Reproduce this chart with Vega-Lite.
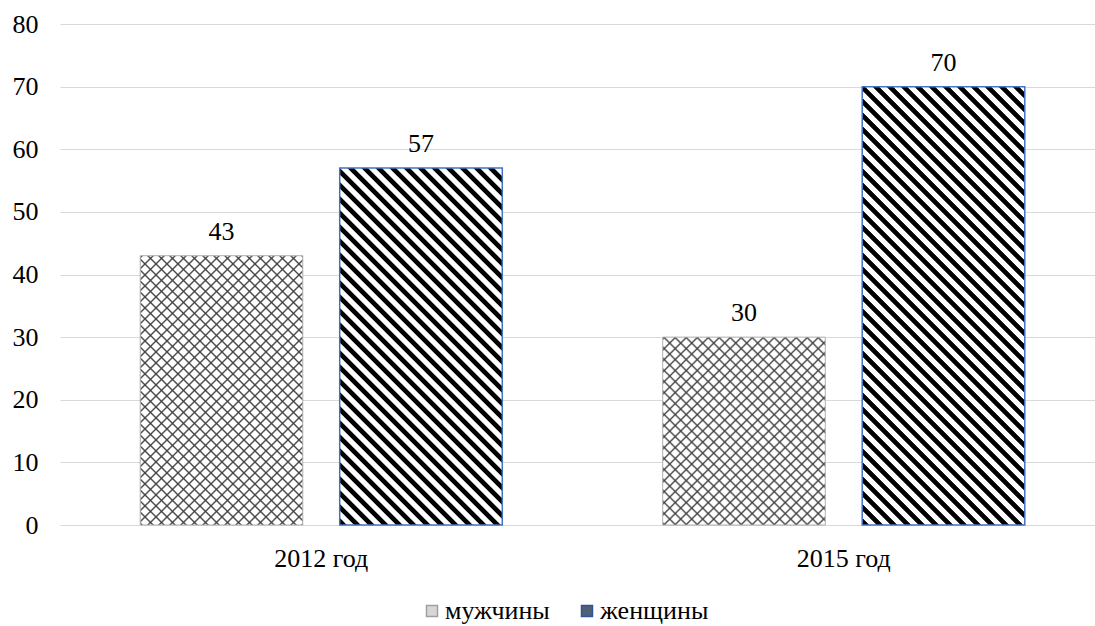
{
  "$schema": "https://vega.github.io/schema/vega-lite/v6.json",
  "width": 1035,
  "height": 501,
  "autosize": "none",
  "padding": {"left": 60, "top": 24, "right": 0, "bottom": 101},
  "background": "#ffffff",
  "config": {"view": {"stroke": null}},
  "data": {
    "values": [
      {"year": "2012 год", "sex": "мужчины", "value": 43},
      {"year": "2012 год", "sex": "женщины", "value": 57},
      {"year": "2015 год", "sex": "мужчины", "value": 30},
      {"year": "2015 год", "sex": "женщины", "value": 70}
    ]
  },
  "encoding": {
    "x": {
      "field": "year", "type": "nominal",
      "scale": {"domain": ["2012 год", "2015 год"], "range": [0, 1045], "paddingInner": 0.307, "paddingOuter": 0.1535},
      "axis": {"title": null, "labelAngle": 0, "domain": false, "ticks": false, "grid": false, "labelFont": "Times New Roman, Liberation Serif, serif", "labelFontSize": 26, "labelColor": "#000", "labelPadding": 20}
    },
    "xOffset": {
      "field": "sex", "type": "nominal",
      "scale": {"domain": ["мужчины", "женщины"], "paddingInner": 0.185, "paddingOuter": 0}
    },
    "y": {
      "field": "value", "type": "quantitative",
      "scale": {"domain": [0, 80], "nice": false},
      "axis": {"title": null, "values": [0, 10, 20, 30, 40, 50, 60, 70, 80], "grid": true, "gridColor": "#d9d9d9", "gridWidth": 1, "domain": false, "ticks": false, "labelFont": "Times New Roman, Liberation Serif, serif", "labelFontSize": 26, "labelColor": "#000", "labelPadding": 22}
    }
  },
  "layer": [
    {
      "mark": {"type": "bar"},
      "encoding": {
        "color": {
          "field": "sex", "type": "nominal",
          "scale": {"domain": ["мужчины", "женщины"], "range": ["#d6d6d6", "#506079"]},
          "legend": {
            "title": null, "orient": "none", "legendX": 359, "legendY": 574, "direction": "horizontal",
            "symbolType": "square", "symbolSize": 121, "symbolStrokeWidth": 1.5,
            "labelFont": "Times New Roman, Liberation Serif, serif", "labelFontSize": 26, "labelColor": "#000", "labelOffset": 0,
            "columnPadding": 24, "padding": 0,
            "encode": {
              "symbols": {
                "update": {
                  "stroke": [
                    {"test": "datum.value === 'мужчины'", "value": "#a0a0a0"},
                    {"value": "#2f5597"}
                  ]
                }
              }
            }
          }
        }
      }
    },
    {
      "transform": [{"filter": "datum.year === '2012 год' && datum.sex === 'мужчины'"}],
      "mark": {"type": "bar", "fill": {"gradient": "linear", "x1": 0, "y1": 0, "x2": 0.9037, "y2": 1.4967, "stops": [
        {"offset":0,"color":"#fff"},{"offset":0.0035,"color":"#404040"},{"offset":0.007,"color":"#fff"},
        {"offset":0.02,"color":"#fff"},{"offset":0.0235,"color":"#404040"},{"offset":0.027,"color":"#fff"},
        {"offset":0.04,"color":"#fff"},{"offset":0.0435,"color":"#404040"},{"offset":0.047,"color":"#fff"},
        {"offset":0.06,"color":"#fff"},{"offset":0.0635,"color":"#404040"},{"offset":0.067,"color":"#fff"},
        {"offset":0.08,"color":"#fff"},{"offset":0.0835,"color":"#404040"},{"offset":0.087,"color":"#fff"},
        {"offset":0.1,"color":"#fff"},{"offset":0.1035,"color":"#404040"},{"offset":0.107,"color":"#fff"},
        {"offset":0.12,"color":"#fff"},{"offset":0.1235,"color":"#404040"},{"offset":0.127,"color":"#fff"},
        {"offset":0.14,"color":"#fff"},{"offset":0.1435,"color":"#404040"},{"offset":0.147,"color":"#fff"},
        {"offset":0.16,"color":"#fff"},{"offset":0.1635,"color":"#404040"},{"offset":0.167,"color":"#fff"},
        {"offset":0.18,"color":"#fff"},{"offset":0.1835,"color":"#404040"},{"offset":0.187,"color":"#fff"},
        {"offset":0.2,"color":"#fff"},{"offset":0.2035,"color":"#404040"},{"offset":0.207,"color":"#fff"},
        {"offset":0.22,"color":"#fff"},{"offset":0.2235,"color":"#404040"},{"offset":0.227,"color":"#fff"},
        {"offset":0.24,"color":"#fff"},{"offset":0.2435,"color":"#404040"},{"offset":0.247,"color":"#fff"},
        {"offset":0.26,"color":"#fff"},{"offset":0.2635,"color":"#404040"},{"offset":0.267,"color":"#fff"},
        {"offset":0.28,"color":"#fff"},{"offset":0.2835,"color":"#404040"},{"offset":0.287,"color":"#fff"},
        {"offset":0.3,"color":"#fff"},{"offset":0.3035,"color":"#404040"},{"offset":0.307,"color":"#fff"},
        {"offset":0.32,"color":"#fff"},{"offset":0.3235,"color":"#404040"},{"offset":0.327,"color":"#fff"},
        {"offset":0.34,"color":"#fff"},{"offset":0.3435,"color":"#404040"},{"offset":0.347,"color":"#fff"},
        {"offset":0.36,"color":"#fff"},{"offset":0.3635,"color":"#404040"},{"offset":0.367,"color":"#fff"},
        {"offset":0.38,"color":"#fff"},{"offset":0.3835,"color":"#404040"},{"offset":0.387,"color":"#fff"},
        {"offset":0.4,"color":"#fff"},{"offset":0.4035,"color":"#404040"},{"offset":0.407,"color":"#fff"},
        {"offset":0.42,"color":"#fff"},{"offset":0.4235,"color":"#404040"},{"offset":0.427,"color":"#fff"},
        {"offset":0.44,"color":"#fff"},{"offset":0.4435,"color":"#404040"},{"offset":0.447,"color":"#fff"},
        {"offset":0.46,"color":"#fff"},{"offset":0.4635,"color":"#404040"},{"offset":0.467,"color":"#fff"},
        {"offset":0.48,"color":"#fff"},{"offset":0.4835,"color":"#404040"},{"offset":0.487,"color":"#fff"},
        {"offset":0.5,"color":"#fff"},{"offset":0.5035,"color":"#404040"},{"offset":0.507,"color":"#fff"},
        {"offset":0.52,"color":"#fff"},{"offset":0.5235,"color":"#404040"},{"offset":0.527,"color":"#fff"},
        {"offset":0.54,"color":"#fff"},{"offset":0.5435,"color":"#404040"},{"offset":0.547,"color":"#fff"},
        {"offset":0.56,"color":"#fff"},{"offset":0.5635,"color":"#404040"},{"offset":0.567,"color":"#fff"},
        {"offset":0.58,"color":"#fff"},{"offset":0.5835,"color":"#404040"},{"offset":0.587,"color":"#fff"},
        {"offset":0.6,"color":"#fff"},{"offset":0.6035,"color":"#404040"},{"offset":0.607,"color":"#fff"},
        {"offset":0.62,"color":"#fff"},{"offset":0.6235,"color":"#404040"},{"offset":0.627,"color":"#fff"},
        {"offset":0.64,"color":"#fff"},{"offset":0.6435,"color":"#404040"},{"offset":0.647,"color":"#fff"},
        {"offset":0.66,"color":"#fff"},{"offset":0.6635,"color":"#404040"},{"offset":0.667,"color":"#fff"},
        {"offset":0.68,"color":"#fff"},{"offset":0.6835,"color":"#404040"},{"offset":0.687,"color":"#fff"},
        {"offset":0.7,"color":"#fff"},{"offset":0.7035,"color":"#404040"},{"offset":0.707,"color":"#fff"},
        {"offset":0.72,"color":"#fff"},{"offset":0.7235,"color":"#404040"},{"offset":0.727,"color":"#fff"},
        {"offset":0.74,"color":"#fff"},{"offset":0.7435,"color":"#404040"},{"offset":0.747,"color":"#fff"},
        {"offset":0.76,"color":"#fff"},{"offset":0.7635,"color":"#404040"},{"offset":0.767,"color":"#fff"},
        {"offset":0.78,"color":"#fff"},{"offset":0.7835,"color":"#404040"},{"offset":0.787,"color":"#fff"}
      ]}}
    },
    {
      "transform": [{"filter": "datum.year === '2012 год' && datum.sex === 'мужчины'"}],
      "mark": {"type": "bar", "stroke": "#b0b0b0", "strokeWidth": 1, "fill": {"gradient": "linear", "x1": 0, "y1": 1, "x2": 0.9037, "y2": -0.4967, "stops": [
        {"offset":0,"color":"rgba(64,64,64,0)"},{"offset":0.0035,"color":"#404040"},{"offset":0.007,"color":"rgba(64,64,64,0)"},
        {"offset":0.02,"color":"rgba(64,64,64,0)"},{"offset":0.0235,"color":"#404040"},{"offset":0.027,"color":"rgba(64,64,64,0)"},
        {"offset":0.04,"color":"rgba(64,64,64,0)"},{"offset":0.0435,"color":"#404040"},{"offset":0.047,"color":"rgba(64,64,64,0)"},
        {"offset":0.06,"color":"rgba(64,64,64,0)"},{"offset":0.0635,"color":"#404040"},{"offset":0.067,"color":"rgba(64,64,64,0)"},
        {"offset":0.08,"color":"rgba(64,64,64,0)"},{"offset":0.0835,"color":"#404040"},{"offset":0.087,"color":"rgba(64,64,64,0)"},
        {"offset":0.1,"color":"rgba(64,64,64,0)"},{"offset":0.1035,"color":"#404040"},{"offset":0.107,"color":"rgba(64,64,64,0)"},
        {"offset":0.12,"color":"rgba(64,64,64,0)"},{"offset":0.1235,"color":"#404040"},{"offset":0.127,"color":"rgba(64,64,64,0)"},
        {"offset":0.14,"color":"rgba(64,64,64,0)"},{"offset":0.1435,"color":"#404040"},{"offset":0.147,"color":"rgba(64,64,64,0)"},
        {"offset":0.16,"color":"rgba(64,64,64,0)"},{"offset":0.1635,"color":"#404040"},{"offset":0.167,"color":"rgba(64,64,64,0)"},
        {"offset":0.18,"color":"rgba(64,64,64,0)"},{"offset":0.1835,"color":"#404040"},{"offset":0.187,"color":"rgba(64,64,64,0)"},
        {"offset":0.2,"color":"rgba(64,64,64,0)"},{"offset":0.2035,"color":"#404040"},{"offset":0.207,"color":"rgba(64,64,64,0)"},
        {"offset":0.22,"color":"rgba(64,64,64,0)"},{"offset":0.2235,"color":"#404040"},{"offset":0.227,"color":"rgba(64,64,64,0)"},
        {"offset":0.24,"color":"rgba(64,64,64,0)"},{"offset":0.2435,"color":"#404040"},{"offset":0.247,"color":"rgba(64,64,64,0)"},
        {"offset":0.26,"color":"rgba(64,64,64,0)"},{"offset":0.2635,"color":"#404040"},{"offset":0.267,"color":"rgba(64,64,64,0)"},
        {"offset":0.28,"color":"rgba(64,64,64,0)"},{"offset":0.2835,"color":"#404040"},{"offset":0.287,"color":"rgba(64,64,64,0)"},
        {"offset":0.3,"color":"rgba(64,64,64,0)"},{"offset":0.3035,"color":"#404040"},{"offset":0.307,"color":"rgba(64,64,64,0)"},
        {"offset":0.32,"color":"rgba(64,64,64,0)"},{"offset":0.3235,"color":"#404040"},{"offset":0.327,"color":"rgba(64,64,64,0)"},
        {"offset":0.34,"color":"rgba(64,64,64,0)"},{"offset":0.3435,"color":"#404040"},{"offset":0.347,"color":"rgba(64,64,64,0)"},
        {"offset":0.36,"color":"rgba(64,64,64,0)"},{"offset":0.3635,"color":"#404040"},{"offset":0.367,"color":"rgba(64,64,64,0)"},
        {"offset":0.38,"color":"rgba(64,64,64,0)"},{"offset":0.3835,"color":"#404040"},{"offset":0.387,"color":"rgba(64,64,64,0)"},
        {"offset":0.4,"color":"rgba(64,64,64,0)"},{"offset":0.4035,"color":"#404040"},{"offset":0.407,"color":"rgba(64,64,64,0)"},
        {"offset":0.42,"color":"rgba(64,64,64,0)"},{"offset":0.4235,"color":"#404040"},{"offset":0.427,"color":"rgba(64,64,64,0)"},
        {"offset":0.44,"color":"rgba(64,64,64,0)"},{"offset":0.4435,"color":"#404040"},{"offset":0.447,"color":"rgba(64,64,64,0)"},
        {"offset":0.46,"color":"rgba(64,64,64,0)"},{"offset":0.4635,"color":"#404040"},{"offset":0.467,"color":"rgba(64,64,64,0)"},
        {"offset":0.48,"color":"rgba(64,64,64,0)"},{"offset":0.4835,"color":"#404040"},{"offset":0.487,"color":"rgba(64,64,64,0)"},
        {"offset":0.5,"color":"rgba(64,64,64,0)"},{"offset":0.5035,"color":"#404040"},{"offset":0.507,"color":"rgba(64,64,64,0)"},
        {"offset":0.52,"color":"rgba(64,64,64,0)"},{"offset":0.5235,"color":"#404040"},{"offset":0.527,"color":"rgba(64,64,64,0)"},
        {"offset":0.54,"color":"rgba(64,64,64,0)"},{"offset":0.5435,"color":"#404040"},{"offset":0.547,"color":"rgba(64,64,64,0)"},
        {"offset":0.56,"color":"rgba(64,64,64,0)"},{"offset":0.5635,"color":"#404040"},{"offset":0.567,"color":"rgba(64,64,64,0)"},
        {"offset":0.58,"color":"rgba(64,64,64,0)"},{"offset":0.5835,"color":"#404040"},{"offset":0.587,"color":"rgba(64,64,64,0)"},
        {"offset":0.6,"color":"rgba(64,64,64,0)"},{"offset":0.6035,"color":"#404040"},{"offset":0.607,"color":"rgba(64,64,64,0)"},
        {"offset":0.62,"color":"rgba(64,64,64,0)"},{"offset":0.6235,"color":"#404040"},{"offset":0.627,"color":"rgba(64,64,64,0)"},
        {"offset":0.64,"color":"rgba(64,64,64,0)"},{"offset":0.6435,"color":"#404040"},{"offset":0.647,"color":"rgba(64,64,64,0)"},
        {"offset":0.66,"color":"rgba(64,64,64,0)"},{"offset":0.6635,"color":"#404040"},{"offset":0.667,"color":"rgba(64,64,64,0)"},
        {"offset":0.68,"color":"rgba(64,64,64,0)"},{"offset":0.6835,"color":"#404040"},{"offset":0.687,"color":"rgba(64,64,64,0)"},
        {"offset":0.7,"color":"rgba(64,64,64,0)"},{"offset":0.7035,"color":"#404040"},{"offset":0.707,"color":"rgba(64,64,64,0)"},
        {"offset":0.72,"color":"rgba(64,64,64,0)"},{"offset":0.7235,"color":"#404040"},{"offset":0.727,"color":"rgba(64,64,64,0)"},
        {"offset":0.74,"color":"rgba(64,64,64,0)"},{"offset":0.7435,"color":"#404040"},{"offset":0.747,"color":"rgba(64,64,64,0)"},
        {"offset":0.76,"color":"rgba(64,64,64,0)"},{"offset":0.7635,"color":"#404040"},{"offset":0.767,"color":"rgba(64,64,64,0)"},
        {"offset":0.78,"color":"rgba(64,64,64,0)"},{"offset":0.7835,"color":"#404040"},{"offset":0.787,"color":"rgba(64,64,64,0)"}
      ]}}
    },
    {
      "transform": [{"filter": "datum.year === '2015 год' && datum.sex === 'мужчины'"}],
      "mark": {"type": "bar", "fill": {"gradient": "linear", "x1": 0, "y1": 0, "x2": 1.4486, "y2": 1.6738, "stops": [
        {"offset":0,"color":"#fff"},{"offset":0.0035,"color":"#404040"},{"offset":0.007,"color":"#fff"},
        {"offset":0.02,"color":"#fff"},{"offset":0.0235,"color":"#404040"},{"offset":0.027,"color":"#fff"},
        {"offset":0.04,"color":"#fff"},{"offset":0.0435,"color":"#404040"},{"offset":0.047,"color":"#fff"},
        {"offset":0.06,"color":"#fff"},{"offset":0.0635,"color":"#404040"},{"offset":0.067,"color":"#fff"},
        {"offset":0.08,"color":"#fff"},{"offset":0.0835,"color":"#404040"},{"offset":0.087,"color":"#fff"},
        {"offset":0.1,"color":"#fff"},{"offset":0.1035,"color":"#404040"},{"offset":0.107,"color":"#fff"},
        {"offset":0.12,"color":"#fff"},{"offset":0.1235,"color":"#404040"},{"offset":0.127,"color":"#fff"},
        {"offset":0.14,"color":"#fff"},{"offset":0.1435,"color":"#404040"},{"offset":0.147,"color":"#fff"},
        {"offset":0.16,"color":"#fff"},{"offset":0.1635,"color":"#404040"},{"offset":0.167,"color":"#fff"},
        {"offset":0.18,"color":"#fff"},{"offset":0.1835,"color":"#404040"},{"offset":0.187,"color":"#fff"},
        {"offset":0.2,"color":"#fff"},{"offset":0.2035,"color":"#404040"},{"offset":0.207,"color":"#fff"},
        {"offset":0.22,"color":"#fff"},{"offset":0.2235,"color":"#404040"},{"offset":0.227,"color":"#fff"},
        {"offset":0.24,"color":"#fff"},{"offset":0.2435,"color":"#404040"},{"offset":0.247,"color":"#fff"},
        {"offset":0.26,"color":"#fff"},{"offset":0.2635,"color":"#404040"},{"offset":0.267,"color":"#fff"},
        {"offset":0.28,"color":"#fff"},{"offset":0.2835,"color":"#404040"},{"offset":0.287,"color":"#fff"},
        {"offset":0.3,"color":"#fff"},{"offset":0.3035,"color":"#404040"},{"offset":0.307,"color":"#fff"},
        {"offset":0.32,"color":"#fff"},{"offset":0.3235,"color":"#404040"},{"offset":0.327,"color":"#fff"},
        {"offset":0.34,"color":"#fff"},{"offset":0.3435,"color":"#404040"},{"offset":0.347,"color":"#fff"},
        {"offset":0.36,"color":"#fff"},{"offset":0.3635,"color":"#404040"},{"offset":0.367,"color":"#fff"},
        {"offset":0.38,"color":"#fff"},{"offset":0.3835,"color":"#404040"},{"offset":0.387,"color":"#fff"},
        {"offset":0.4,"color":"#fff"},{"offset":0.4035,"color":"#404040"},{"offset":0.407,"color":"#fff"},
        {"offset":0.42,"color":"#fff"},{"offset":0.4235,"color":"#404040"},{"offset":0.427,"color":"#fff"},
        {"offset":0.44,"color":"#fff"},{"offset":0.4435,"color":"#404040"},{"offset":0.447,"color":"#fff"},
        {"offset":0.46,"color":"#fff"},{"offset":0.4635,"color":"#404040"},{"offset":0.467,"color":"#fff"},
        {"offset":0.48,"color":"#fff"},{"offset":0.4835,"color":"#404040"},{"offset":0.487,"color":"#fff"},
        {"offset":0.5,"color":"#fff"},{"offset":0.5035,"color":"#404040"},{"offset":0.507,"color":"#fff"},
        {"offset":0.52,"color":"#fff"},{"offset":0.5235,"color":"#404040"},{"offset":0.527,"color":"#fff"},
        {"offset":0.54,"color":"#fff"},{"offset":0.5435,"color":"#404040"},{"offset":0.547,"color":"#fff"},
        {"offset":0.56,"color":"#fff"},{"offset":0.5635,"color":"#404040"},{"offset":0.567,"color":"#fff"},
        {"offset":0.58,"color":"#fff"},{"offset":0.5835,"color":"#404040"},{"offset":0.587,"color":"#fff"},
        {"offset":0.6,"color":"#fff"},{"offset":0.6035,"color":"#404040"},{"offset":0.607,"color":"#fff"},
        {"offset":0.62,"color":"#fff"},{"offset":0.6235,"color":"#404040"},{"offset":0.627,"color":"#fff"},
        {"offset":0.64,"color":"#fff"},{"offset":0.6435,"color":"#404040"},{"offset":0.647,"color":"#fff"}
      ]}}
    },
    {
      "transform": [{"filter": "datum.year === '2015 год' && datum.sex === 'мужчины'"}],
      "mark": {"type": "bar", "stroke": "#b0b0b0", "strokeWidth": 1, "fill": {"gradient": "linear", "x1": 0, "y1": 1, "x2": 1.4486, "y2": -0.6738, "stops": [
        {"offset":0,"color":"rgba(64,64,64,0)"},{"offset":0.0035,"color":"#404040"},{"offset":0.007,"color":"rgba(64,64,64,0)"},
        {"offset":0.02,"color":"rgba(64,64,64,0)"},{"offset":0.0235,"color":"#404040"},{"offset":0.027,"color":"rgba(64,64,64,0)"},
        {"offset":0.04,"color":"rgba(64,64,64,0)"},{"offset":0.0435,"color":"#404040"},{"offset":0.047,"color":"rgba(64,64,64,0)"},
        {"offset":0.06,"color":"rgba(64,64,64,0)"},{"offset":0.0635,"color":"#404040"},{"offset":0.067,"color":"rgba(64,64,64,0)"},
        {"offset":0.08,"color":"rgba(64,64,64,0)"},{"offset":0.0835,"color":"#404040"},{"offset":0.087,"color":"rgba(64,64,64,0)"},
        {"offset":0.1,"color":"rgba(64,64,64,0)"},{"offset":0.1035,"color":"#404040"},{"offset":0.107,"color":"rgba(64,64,64,0)"},
        {"offset":0.12,"color":"rgba(64,64,64,0)"},{"offset":0.1235,"color":"#404040"},{"offset":0.127,"color":"rgba(64,64,64,0)"},
        {"offset":0.14,"color":"rgba(64,64,64,0)"},{"offset":0.1435,"color":"#404040"},{"offset":0.147,"color":"rgba(64,64,64,0)"},
        {"offset":0.16,"color":"rgba(64,64,64,0)"},{"offset":0.1635,"color":"#404040"},{"offset":0.167,"color":"rgba(64,64,64,0)"},
        {"offset":0.18,"color":"rgba(64,64,64,0)"},{"offset":0.1835,"color":"#404040"},{"offset":0.187,"color":"rgba(64,64,64,0)"},
        {"offset":0.2,"color":"rgba(64,64,64,0)"},{"offset":0.2035,"color":"#404040"},{"offset":0.207,"color":"rgba(64,64,64,0)"},
        {"offset":0.22,"color":"rgba(64,64,64,0)"},{"offset":0.2235,"color":"#404040"},{"offset":0.227,"color":"rgba(64,64,64,0)"},
        {"offset":0.24,"color":"rgba(64,64,64,0)"},{"offset":0.2435,"color":"#404040"},{"offset":0.247,"color":"rgba(64,64,64,0)"},
        {"offset":0.26,"color":"rgba(64,64,64,0)"},{"offset":0.2635,"color":"#404040"},{"offset":0.267,"color":"rgba(64,64,64,0)"},
        {"offset":0.28,"color":"rgba(64,64,64,0)"},{"offset":0.2835,"color":"#404040"},{"offset":0.287,"color":"rgba(64,64,64,0)"},
        {"offset":0.3,"color":"rgba(64,64,64,0)"},{"offset":0.3035,"color":"#404040"},{"offset":0.307,"color":"rgba(64,64,64,0)"},
        {"offset":0.32,"color":"rgba(64,64,64,0)"},{"offset":0.3235,"color":"#404040"},{"offset":0.327,"color":"rgba(64,64,64,0)"},
        {"offset":0.34,"color":"rgba(64,64,64,0)"},{"offset":0.3435,"color":"#404040"},{"offset":0.347,"color":"rgba(64,64,64,0)"},
        {"offset":0.36,"color":"rgba(64,64,64,0)"},{"offset":0.3635,"color":"#404040"},{"offset":0.367,"color":"rgba(64,64,64,0)"},
        {"offset":0.38,"color":"rgba(64,64,64,0)"},{"offset":0.3835,"color":"#404040"},{"offset":0.387,"color":"rgba(64,64,64,0)"},
        {"offset":0.4,"color":"rgba(64,64,64,0)"},{"offset":0.4035,"color":"#404040"},{"offset":0.407,"color":"rgba(64,64,64,0)"},
        {"offset":0.42,"color":"rgba(64,64,64,0)"},{"offset":0.4235,"color":"#404040"},{"offset":0.427,"color":"rgba(64,64,64,0)"},
        {"offset":0.44,"color":"rgba(64,64,64,0)"},{"offset":0.4435,"color":"#404040"},{"offset":0.447,"color":"rgba(64,64,64,0)"},
        {"offset":0.46,"color":"rgba(64,64,64,0)"},{"offset":0.4635,"color":"#404040"},{"offset":0.467,"color":"rgba(64,64,64,0)"},
        {"offset":0.48,"color":"rgba(64,64,64,0)"},{"offset":0.4835,"color":"#404040"},{"offset":0.487,"color":"rgba(64,64,64,0)"},
        {"offset":0.5,"color":"rgba(64,64,64,0)"},{"offset":0.5035,"color":"#404040"},{"offset":0.507,"color":"rgba(64,64,64,0)"},
        {"offset":0.52,"color":"rgba(64,64,64,0)"},{"offset":0.5235,"color":"#404040"},{"offset":0.527,"color":"rgba(64,64,64,0)"},
        {"offset":0.54,"color":"rgba(64,64,64,0)"},{"offset":0.5435,"color":"#404040"},{"offset":0.547,"color":"rgba(64,64,64,0)"},
        {"offset":0.56,"color":"rgba(64,64,64,0)"},{"offset":0.5635,"color":"#404040"},{"offset":0.567,"color":"rgba(64,64,64,0)"},
        {"offset":0.58,"color":"rgba(64,64,64,0)"},{"offset":0.5835,"color":"#404040"},{"offset":0.587,"color":"rgba(64,64,64,0)"},
        {"offset":0.6,"color":"rgba(64,64,64,0)"},{"offset":0.6035,"color":"#404040"},{"offset":0.607,"color":"rgba(64,64,64,0)"},
        {"offset":0.62,"color":"rgba(64,64,64,0)"},{"offset":0.6235,"color":"#404040"},{"offset":0.627,"color":"rgba(64,64,64,0)"},
        {"offset":0.64,"color":"rgba(64,64,64,0)"},{"offset":0.6435,"color":"#404040"},{"offset":0.647,"color":"rgba(64,64,64,0)"}
      ]}}
    },
    {
      "transform": [{"filter": "datum.year === '2012 год' && datum.sex === 'женщины'"}],
      "mark": {"type": "bar", "stroke": "#4472c4", "strokeWidth": 1.5, "fill": {"gradient": "linear", "x1": 0, "y1": 1, "x2": 0.7398, "y2": -0.624, "stops": [
        {"offset":0,"color":"#fff"},{"offset":0.0015,"color":"#000"},{"offset":0.0095,"color":"#000"},{"offset":0.011,"color":"#fff"},
        {"offset":0.02,"color":"#fff"},{"offset":0.0215,"color":"#000"},{"offset":0.0295,"color":"#000"},{"offset":0.031,"color":"#fff"},
        {"offset":0.04,"color":"#fff"},{"offset":0.0415,"color":"#000"},{"offset":0.0495,"color":"#000"},{"offset":0.051,"color":"#fff"},
        {"offset":0.06,"color":"#fff"},{"offset":0.0615,"color":"#000"},{"offset":0.0695,"color":"#000"},{"offset":0.071,"color":"#fff"},
        {"offset":0.08,"color":"#fff"},{"offset":0.0815,"color":"#000"},{"offset":0.0895,"color":"#000"},{"offset":0.091,"color":"#fff"},
        {"offset":0.1,"color":"#fff"},{"offset":0.1015,"color":"#000"},{"offset":0.1095,"color":"#000"},{"offset":0.111,"color":"#fff"},
        {"offset":0.12,"color":"#fff"},{"offset":0.1215,"color":"#000"},{"offset":0.1295,"color":"#000"},{"offset":0.131,"color":"#fff"},
        {"offset":0.14,"color":"#fff"},{"offset":0.1415,"color":"#000"},{"offset":0.1495,"color":"#000"},{"offset":0.151,"color":"#fff"},
        {"offset":0.16,"color":"#fff"},{"offset":0.1615,"color":"#000"},{"offset":0.1695,"color":"#000"},{"offset":0.171,"color":"#fff"},
        {"offset":0.18,"color":"#fff"},{"offset":0.1815,"color":"#000"},{"offset":0.1895,"color":"#000"},{"offset":0.191,"color":"#fff"},
        {"offset":0.2,"color":"#fff"},{"offset":0.2015,"color":"#000"},{"offset":0.2095,"color":"#000"},{"offset":0.211,"color":"#fff"},
        {"offset":0.22,"color":"#fff"},{"offset":0.2215,"color":"#000"},{"offset":0.2295,"color":"#000"},{"offset":0.231,"color":"#fff"},
        {"offset":0.24,"color":"#fff"},{"offset":0.2415,"color":"#000"},{"offset":0.2495,"color":"#000"},{"offset":0.251,"color":"#fff"},
        {"offset":0.26,"color":"#fff"},{"offset":0.2615,"color":"#000"},{"offset":0.2695,"color":"#000"},{"offset":0.271,"color":"#fff"},
        {"offset":0.28,"color":"#fff"},{"offset":0.2815,"color":"#000"},{"offset":0.2895,"color":"#000"},{"offset":0.291,"color":"#fff"},
        {"offset":0.3,"color":"#fff"},{"offset":0.3015,"color":"#000"},{"offset":0.3095,"color":"#000"},{"offset":0.311,"color":"#fff"},
        {"offset":0.32,"color":"#fff"},{"offset":0.3215,"color":"#000"},{"offset":0.3295,"color":"#000"},{"offset":0.331,"color":"#fff"},
        {"offset":0.34,"color":"#fff"},{"offset":0.3415,"color":"#000"},{"offset":0.3495,"color":"#000"},{"offset":0.351,"color":"#fff"},
        {"offset":0.36,"color":"#fff"},{"offset":0.3615,"color":"#000"},{"offset":0.3695,"color":"#000"},{"offset":0.371,"color":"#fff"},
        {"offset":0.38,"color":"#fff"},{"offset":0.3815,"color":"#000"},{"offset":0.3895,"color":"#000"},{"offset":0.391,"color":"#fff"},
        {"offset":0.4,"color":"#fff"},{"offset":0.4015,"color":"#000"},{"offset":0.4095,"color":"#000"},{"offset":0.411,"color":"#fff"},
        {"offset":0.42,"color":"#fff"},{"offset":0.4215,"color":"#000"},{"offset":0.4295,"color":"#000"},{"offset":0.431,"color":"#fff"},
        {"offset":0.44,"color":"#fff"},{"offset":0.4415,"color":"#000"},{"offset":0.4495,"color":"#000"},{"offset":0.451,"color":"#fff"},
        {"offset":0.46,"color":"#fff"},{"offset":0.4615,"color":"#000"},{"offset":0.4695,"color":"#000"},{"offset":0.471,"color":"#fff"},
        {"offset":0.48,"color":"#fff"},{"offset":0.4815,"color":"#000"},{"offset":0.4895,"color":"#000"},{"offset":0.491,"color":"#fff"},
        {"offset":0.5,"color":"#fff"},{"offset":0.5015,"color":"#000"},{"offset":0.5095,"color":"#000"},{"offset":0.511,"color":"#fff"},
        {"offset":0.52,"color":"#fff"},{"offset":0.5215,"color":"#000"},{"offset":0.5295,"color":"#000"},{"offset":0.531,"color":"#fff"},
        {"offset":0.54,"color":"#fff"},{"offset":0.5415,"color":"#000"},{"offset":0.5495,"color":"#000"},{"offset":0.551,"color":"#fff"},
        {"offset":0.56,"color":"#fff"},{"offset":0.5615,"color":"#000"},{"offset":0.5695,"color":"#000"},{"offset":0.571,"color":"#fff"},
        {"offset":0.58,"color":"#fff"},{"offset":0.5815,"color":"#000"},{"offset":0.5895,"color":"#000"},{"offset":0.591,"color":"#fff"},
        {"offset":0.6,"color":"#fff"},{"offset":0.6015,"color":"#000"},{"offset":0.6095,"color":"#000"},{"offset":0.611,"color":"#fff"},
        {"offset":0.62,"color":"#fff"},{"offset":0.6215,"color":"#000"},{"offset":0.6295,"color":"#000"},{"offset":0.631,"color":"#fff"},
        {"offset":0.64,"color":"#fff"},{"offset":0.6415,"color":"#000"},{"offset":0.6495,"color":"#000"},{"offset":0.651,"color":"#fff"},
        {"offset":0.66,"color":"#fff"},{"offset":0.6615,"color":"#000"},{"offset":0.6695,"color":"#000"},{"offset":0.671,"color":"#fff"},
        {"offset":0.68,"color":"#fff"},{"offset":0.6815,"color":"#000"},{"offset":0.6895,"color":"#000"},{"offset":0.691,"color":"#fff"},
        {"offset":0.7,"color":"#fff"},{"offset":0.7015,"color":"#000"},{"offset":0.7095,"color":"#000"},{"offset":0.711,"color":"#fff"},
        {"offset":0.72,"color":"#fff"},{"offset":0.7215,"color":"#000"},{"offset":0.7295,"color":"#000"},{"offset":0.731,"color":"#fff"},
        {"offset":0.74,"color":"#fff"},{"offset":0.7415,"color":"#000"},{"offset":0.7495,"color":"#000"},{"offset":0.751,"color":"#fff"}
      ]}}
    },
    {
      "transform": [{"filter": "datum.year === '2015 год' && datum.sex === 'женщины'"}],
      "mark": {"type": "bar", "stroke": "#4472c4", "strokeWidth": 1.5, "fill": {"gradient": "linear", "x1": 0, "y1": 1, "x2": 0.5207, "y2": -0.4037, "stops": [
        {"offset":0,"color":"#fff"},{"offset":0.0015,"color":"#000"},{"offset":0.0095,"color":"#000"},{"offset":0.011,"color":"#fff"},
        {"offset":0.02,"color":"#fff"},{"offset":0.0215,"color":"#000"},{"offset":0.0295,"color":"#000"},{"offset":0.031,"color":"#fff"},
        {"offset":0.04,"color":"#fff"},{"offset":0.0415,"color":"#000"},{"offset":0.0495,"color":"#000"},{"offset":0.051,"color":"#fff"},
        {"offset":0.06,"color":"#fff"},{"offset":0.0615,"color":"#000"},{"offset":0.0695,"color":"#000"},{"offset":0.071,"color":"#fff"},
        {"offset":0.08,"color":"#fff"},{"offset":0.0815,"color":"#000"},{"offset":0.0895,"color":"#000"},{"offset":0.091,"color":"#fff"},
        {"offset":0.1,"color":"#fff"},{"offset":0.1015,"color":"#000"},{"offset":0.1095,"color":"#000"},{"offset":0.111,"color":"#fff"},
        {"offset":0.12,"color":"#fff"},{"offset":0.1215,"color":"#000"},{"offset":0.1295,"color":"#000"},{"offset":0.131,"color":"#fff"},
        {"offset":0.14,"color":"#fff"},{"offset":0.1415,"color":"#000"},{"offset":0.1495,"color":"#000"},{"offset":0.151,"color":"#fff"},
        {"offset":0.16,"color":"#fff"},{"offset":0.1615,"color":"#000"},{"offset":0.1695,"color":"#000"},{"offset":0.171,"color":"#fff"},
        {"offset":0.18,"color":"#fff"},{"offset":0.1815,"color":"#000"},{"offset":0.1895,"color":"#000"},{"offset":0.191,"color":"#fff"},
        {"offset":0.2,"color":"#fff"},{"offset":0.2015,"color":"#000"},{"offset":0.2095,"color":"#000"},{"offset":0.211,"color":"#fff"},
        {"offset":0.22,"color":"#fff"},{"offset":0.2215,"color":"#000"},{"offset":0.2295,"color":"#000"},{"offset":0.231,"color":"#fff"},
        {"offset":0.24,"color":"#fff"},{"offset":0.2415,"color":"#000"},{"offset":0.2495,"color":"#000"},{"offset":0.251,"color":"#fff"},
        {"offset":0.26,"color":"#fff"},{"offset":0.2615,"color":"#000"},{"offset":0.2695,"color":"#000"},{"offset":0.271,"color":"#fff"},
        {"offset":0.28,"color":"#fff"},{"offset":0.2815,"color":"#000"},{"offset":0.2895,"color":"#000"},{"offset":0.291,"color":"#fff"},
        {"offset":0.3,"color":"#fff"},{"offset":0.3015,"color":"#000"},{"offset":0.3095,"color":"#000"},{"offset":0.311,"color":"#fff"},
        {"offset":0.32,"color":"#fff"},{"offset":0.3215,"color":"#000"},{"offset":0.3295,"color":"#000"},{"offset":0.331,"color":"#fff"},
        {"offset":0.34,"color":"#fff"},{"offset":0.3415,"color":"#000"},{"offset":0.3495,"color":"#000"},{"offset":0.351,"color":"#fff"},
        {"offset":0.36,"color":"#fff"},{"offset":0.3615,"color":"#000"},{"offset":0.3695,"color":"#000"},{"offset":0.371,"color":"#fff"},
        {"offset":0.38,"color":"#fff"},{"offset":0.3815,"color":"#000"},{"offset":0.3895,"color":"#000"},{"offset":0.391,"color":"#fff"},
        {"offset":0.4,"color":"#fff"},{"offset":0.4015,"color":"#000"},{"offset":0.4095,"color":"#000"},{"offset":0.411,"color":"#fff"},
        {"offset":0.42,"color":"#fff"},{"offset":0.4215,"color":"#000"},{"offset":0.4295,"color":"#000"},{"offset":0.431,"color":"#fff"},
        {"offset":0.44,"color":"#fff"},{"offset":0.4415,"color":"#000"},{"offset":0.4495,"color":"#000"},{"offset":0.451,"color":"#fff"},
        {"offset":0.46,"color":"#fff"},{"offset":0.4615,"color":"#000"},{"offset":0.4695,"color":"#000"},{"offset":0.471,"color":"#fff"},
        {"offset":0.48,"color":"#fff"},{"offset":0.4815,"color":"#000"},{"offset":0.4895,"color":"#000"},{"offset":0.491,"color":"#fff"},
        {"offset":0.5,"color":"#fff"},{"offset":0.5015,"color":"#000"},{"offset":0.5095,"color":"#000"},{"offset":0.511,"color":"#fff"},
        {"offset":0.52,"color":"#fff"},{"offset":0.5215,"color":"#000"},{"offset":0.5295,"color":"#000"},{"offset":0.531,"color":"#fff"},
        {"offset":0.54,"color":"#fff"},{"offset":0.5415,"color":"#000"},{"offset":0.5495,"color":"#000"},{"offset":0.551,"color":"#fff"},
        {"offset":0.56,"color":"#fff"},{"offset":0.5615,"color":"#000"},{"offset":0.5695,"color":"#000"},{"offset":0.571,"color":"#fff"},
        {"offset":0.58,"color":"#fff"},{"offset":0.5815,"color":"#000"},{"offset":0.5895,"color":"#000"},{"offset":0.591,"color":"#fff"},
        {"offset":0.6,"color":"#fff"},{"offset":0.6015,"color":"#000"},{"offset":0.6095,"color":"#000"},{"offset":0.611,"color":"#fff"},
        {"offset":0.62,"color":"#fff"},{"offset":0.6215,"color":"#000"},{"offset":0.6295,"color":"#000"},{"offset":0.631,"color":"#fff"},
        {"offset":0.64,"color":"#fff"},{"offset":0.6415,"color":"#000"},{"offset":0.6495,"color":"#000"},{"offset":0.651,"color":"#fff"},
        {"offset":0.66,"color":"#fff"},{"offset":0.6615,"color":"#000"},{"offset":0.6695,"color":"#000"},{"offset":0.671,"color":"#fff"},
        {"offset":0.68,"color":"#fff"},{"offset":0.6815,"color":"#000"},{"offset":0.6895,"color":"#000"},{"offset":0.691,"color":"#fff"},
        {"offset":0.7,"color":"#fff"},{"offset":0.7015,"color":"#000"},{"offset":0.7095,"color":"#000"},{"offset":0.711,"color":"#fff"},
        {"offset":0.72,"color":"#fff"},{"offset":0.7215,"color":"#000"},{"offset":0.7295,"color":"#000"},{"offset":0.731,"color":"#fff"},
        {"offset":0.74,"color":"#fff"},{"offset":0.7415,"color":"#000"},{"offset":0.7495,"color":"#000"},{"offset":0.751,"color":"#fff"},
        {"offset":0.76,"color":"#fff"},{"offset":0.7615,"color":"#000"},{"offset":0.7695,"color":"#000"},{"offset":0.771,"color":"#fff"},
        {"offset":0.78,"color":"#fff"},{"offset":0.7815,"color":"#000"},{"offset":0.7895,"color":"#000"},{"offset":0.791,"color":"#fff"},
        {"offset":0.8,"color":"#fff"},{"offset":0.8015,"color":"#000"},{"offset":0.8095,"color":"#000"},{"offset":0.811,"color":"#fff"},
        {"offset":0.82,"color":"#fff"},{"offset":0.8215,"color":"#000"},{"offset":0.8295,"color":"#000"},{"offset":0.831,"color":"#fff"},
        {"offset":0.84,"color":"#fff"},{"offset":0.8415,"color":"#000"},{"offset":0.8495,"color":"#000"},{"offset":0.851,"color":"#fff"},
        {"offset":0.86,"color":"#fff"},{"offset":0.8615,"color":"#000"},{"offset":0.8695,"color":"#000"},{"offset":0.871,"color":"#fff"}
      ]}}
    },
    {
      "mark": {"type": "text", "font": "Times New Roman, Liberation Serif, serif", "fontSize": 26, "color": "#000", "baseline": "alphabetic", "dy": -16},
      "encoding": {"text": {"field": "value", "type": "quantitative"}}
    }
  ]
}
